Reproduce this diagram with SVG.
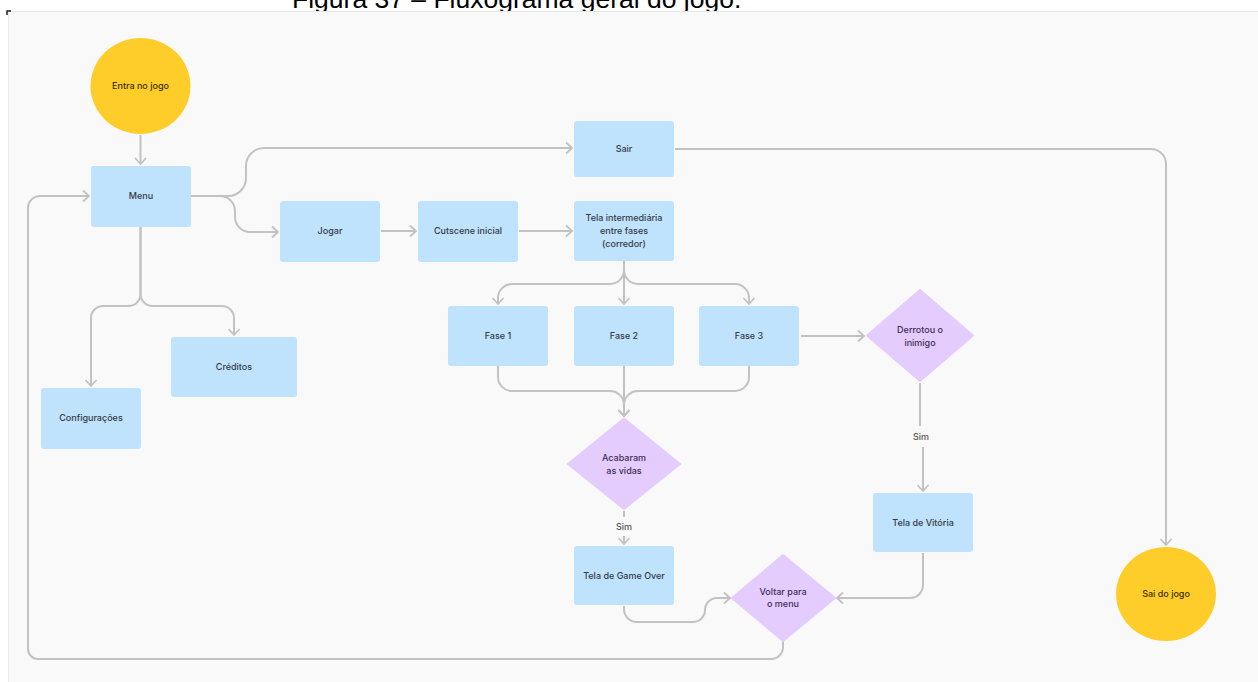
<svg xmlns="http://www.w3.org/2000/svg" width="1258" height="682" viewBox="0 0 1258 682">
<style>
.rect{fill:#bfe3fd;}
.dia{fill:#e4ccff;}
.circ{fill:#ffcd29;}
.t{font-family:Inter,"Liberation Sans",sans-serif;font-size:9px;font-weight:500;fill:#353a46;text-anchor:middle;}
.td{fill:#3e2c55;}
.tc{fill:#3a2f00;}
.lbl{font-family:Inter,"Liberation Sans",sans-serif;font-size:9px;font-weight:500;fill:#555;text-anchor:middle;}
.c{fill:none;stroke:#c2c2c2;stroke-width:2;marker-end:url(#arr);}
.n{fill:none;stroke:#c2c2c2;stroke-width:2;}
.cap{font-family:"Liberation Sans",Arial,sans-serif;font-size:26.5px;fill:#000;}
</style>
<defs>
<marker id="arr" markerWidth="14" markerHeight="14" refX="0" refY="0" viewBox="-8 -7 10 14" orient="auto" markerUnits="userSpaceOnUse">
<path d="M-6,-5.5 L0,0 L-6,5.5" fill="none" stroke="#c2c2c2" stroke-width="1.8"/>
</marker>
</defs>
<rect x="0" y="0" width="1258" height="682" fill="#ffffff"/>
<text class="cap" x="292" y="8">Figura 37 – Fluxograma geral do jogo.</text>
<rect x="8" y="11" width="1250" height="671" fill="#f9f9f9"/>
<line x1="8" y1="11.5" x2="1258" y2="11.5" stroke="#e6e6e6" stroke-width="1"/>
<line x1="8.5" y1="11" x2="8.5" y2="682" stroke="#ececec" stroke-width="1"/>
<path d="M7,15 V11 H11" fill="none" stroke="#222" stroke-width="1.5"/>

<g id="connectors">
<path class="c" d="M140.5,135 V164"/>
<path class="c" d="M191,196 H228 a18,18 0 0 0 18,-18 V166 a18,18 0 0 1 18,-18 H572"/>
<path class="c" d="M191,196 H220 a15,15 0 0 1 15,15 V217 a15,15 0 0 0 15,15 H278"/>
<path class="c" d="M381,231 H416"/>
<path class="c" d="M519,231 H572"/>
<path class="c" d="M624,261 V270 a14,14 0 0 1 -14,14 H512 a14,14 0 0 0 -14,14 V304"/>
<path class="c" d="M624,261 V304"/>
<path class="c" d="M624,261 V270 a14,14 0 0 0 14,14 H735 a14,14 0 0 1 14,14 V304"/>
<path class="c" d="M498,366 V377 a14,14 0 0 0 14,14 H610 a14,14 0 0 1 14,14 V416"/>
<path class="c" d="M624,366 V416"/>
<path class="c" d="M749,366 V377 a14,14 0 0 1 -14,14 H638 a14,14 0 0 0 -14,14 V416"/>
<path class="c" d="M801,336 H864"/>
<path class="n" d="M920,383 V426"/>
<text class="lbl" x="921" y="440">Sim</text>
<path class="c" d="M923,447 V491"/>
<path class="n" d="M624,511 V517"/>
<text class="lbl" x="624" y="530">Sim</text>
<path class="c" d="M624,536 V544"/>
<path class="c" d="M624,606 V609 a13,13 0 0 0 13,13 H693 a12,12 0 0 0 12,-12 a12,12 0 0 1 12,-12 H730"/>
<path class="c" d="M923,553 V585 a13,13 0 0 1 -13,13 H837"/>
<path class="c" d="M783,641 V647 a12,12 0 0 1 -12,12 H38 a10,10 0 0 1 -10,-10 V208 a12,12 0 0 1 12,-12 H89"/>
<path class="c" d="M140.5,227 V294 a12,12 0 0 1 -12,12 H103 a12,12 0 0 0 -12,12 V386"/>
<path class="c" d="M140.5,227 V294 a12,12 0 0 0 12,12 H222 a12,12 0 0 1 12,12 V335"/>
<path class="c" d="M675,149 H1151 a15,15 0 0 1 15,15 V545"/>
</g>

<g id="entra">
<ellipse class="circ" cx="140.5" cy="86" rx="50" ry="48"/>
<text class="t tc" x="140.5" y="89">Entra no jogo</text>
</g>
<g id="menu">
<rect class="rect" x="91" y="166" width="100" height="61" rx="3"/>
<text class="t" x="141" y="199">Menu</text>
</g>
<g id="sair">
<rect class="rect" x="574" y="121" width="100" height="56" rx="3"/>
<text class="t" x="624" y="152">Sair</text>
</g>
<g id="jogar">
<rect class="rect" x="280" y="201" width="100" height="61" rx="3"/>
<text class="t" x="330" y="234">Jogar</text>
</g>
<g id="cutscene">
<rect class="rect" x="418" y="201" width="100" height="61" rx="3"/>
<text class="t" x="468" y="234">Cutscene inicial</text>
</g>
<g id="tela-intermediaria">
<rect class="rect" x="574" y="201" width="100" height="60" rx="3"/>
<text class="t" x="624" y="221">Tela intermediária</text>
<text class="t" x="624" y="234">entre fases</text>
<text class="t" x="624" y="247">(corredor)</text>
</g>
<g id="fase1">
<rect class="rect" x="448" y="306" width="100" height="60" rx="3"/>
<text class="t" x="498" y="339">Fase 1</text>
</g>
<g id="fase2">
<rect class="rect" x="574" y="306" width="100" height="60" rx="3"/>
<text class="t" x="624" y="339">Fase 2</text>
</g>
<g id="fase3">
<rect class="rect" x="699" y="306" width="100" height="60" rx="3"/>
<text class="t" x="749" y="339">Fase 3</text>
</g>
<g id="creditos">
<rect class="rect" x="171" y="337" width="126" height="60" rx="3"/>
<text class="t" x="234" y="370">Créditos</text>
</g>
<g id="configuracoes">
<rect class="rect" x="41" y="388" width="100" height="61" rx="3"/>
<text class="t" x="91" y="421">Configurações</text>
</g>
<g id="derrotou">
<path class="dia" d="M920,290 L973,335.5 L920,381 L867,335.5 Z" stroke="#e4ccff" stroke-width="2" stroke-linejoin="round"/>
<text class="t td" x="920" y="333">Derrotou o</text>
<text class="t td" x="920" y="346">inimigo</text>
</g>
<g id="acabaram">
<path class="dia" d="M624,418.5 L680,464 L624,509 L568,464 Z" stroke="#e4ccff" stroke-width="2" stroke-linejoin="round"/>
<text class="t td" x="624" y="461">Acabaram</text>
<text class="t td" x="624" y="474">as vidas</text>
</g>
<g id="gameover">
<rect class="rect" x="574" y="546" width="100" height="59" rx="3"/>
<text class="t" x="624" y="579">Tela de Game Over</text>
</g>
<g id="vitoria">
<rect class="rect" x="873" y="493" width="100" height="59" rx="3"/>
<text class="t" x="923" y="526">Tela de Vitória</text>
</g>
<g id="voltar">
<path class="dia" d="M783,555 L835,598 L783,641 L732,598 Z" stroke="#e4ccff" stroke-width="2" stroke-linejoin="round"/>
<text class="t td" x="783" y="595">Voltar para</text>
<text class="t td" x="783" y="607">o menu</text>
</g>
<g id="sai">
<ellipse class="circ" cx="1166" cy="594" rx="50" ry="47"/>
<text class="t tc" x="1166" y="597">Sai do jogo</text>
</g>
</svg>
